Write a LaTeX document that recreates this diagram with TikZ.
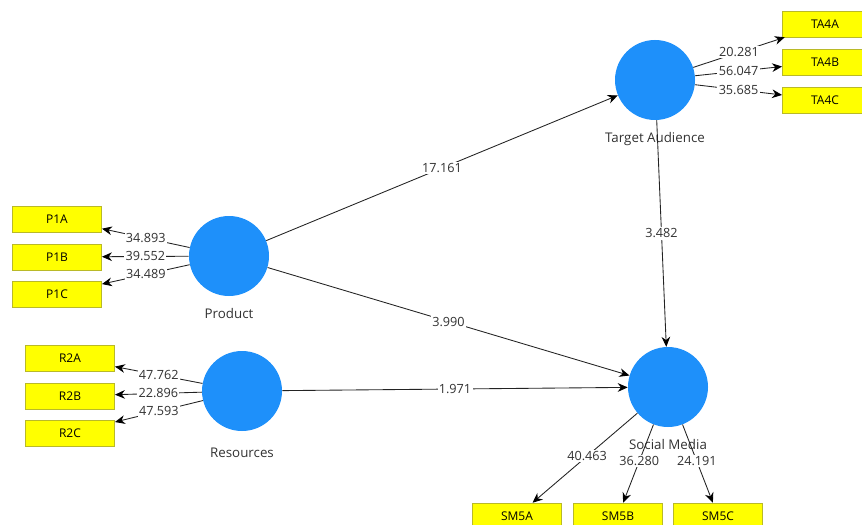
\documentclass[tikz,border=0pt]{standalone}
\usepackage{fontspec}
\setmainfont{Open Sans}
\usetikzlibrary{arrows,arrows.meta,positioning}
\definecolor{plsblue}{RGB}{30,144,250}
\definecolor{plsyellow}{RGB}{255,255,0}
\definecolor{plsedge}{RGB}{185,185,40}
\definecolor{plsgray}{RGB}{35,35,35}
\definecolor{plstext}{RGB}{50,50,50}
\tikzstyle{arrow} = [->,>={Stealth[length=7.5pt,width=6.5pt,color=black]},color=plsgray,line width=0.65pt]
\tikzstyle{latent} = [circle, minimum size=60pt, inner sep=0pt, fill=plsblue]
\tikzstyle{indbox} = [rectangle, minimum width=67pt, minimum height=19.5pt, inner sep=0pt, text centered, draw=plsedge, fill=plsyellow, font=\fontsize{9}{10}\selectfont]
\tikzstyle{coef} = [fill=white, inner sep=1pt, text=plstext, font=\fontsize{9.5}{10}\selectfont]
\tikzstyle{latlabel} = [inner sep=0pt, text=plstext, font=\fontsize{10}{11}\selectfont]

\begin{document}
\begin{tikzpicture}[x=0.75pt,y=-0.75pt]
\useasboundingbox (0,0) rectangle (862,524);

% Latent variables
\node[latent] (prod) at (229,256) {};
\node[latent] (res) at (242,391) {};
\node[latent] (ta) at (655,80) {};
\node[latent] (sm) at (668,387) {};

% Latent labels
\node[latlabel, below=9pt of prod] (prodlab) {Product};
\node[latlabel, below=12pt of res] (reslab) {Resources};
\node[latlabel, below=9pt of ta] (talab) {Target Audience};
\node[latlabel, below=9pt of sm] (smlab) {Social Media};

% Indicators
\node[indbox] (p1a) at (57,219) {P1A};
\node[indbox] (p1b) at (57,257) {P1B};
\node[indbox] (p1c) at (57,294) {P1C};
\node[indbox] (r2a) at (70,358) {R2A};
\node[indbox] (r2b) at (70,396) {R2B};
\node[indbox] (r2c) at (70,433) {R2C};
\node[indbox, minimum width=64pt] (ta4a) at (825,24) {TA4A};
\node[indbox, minimum width=64pt] (ta4b) at (825,62) {TA4B};
\node[indbox, minimum width=64pt] (ta4c) at (825,100) {TA4C};
\node[indbox] (sm5a) at (517,516) {SM5A};
\node[indbox] (sm5b) at (618,516) {SM5B};
\node[indbox] (sm5c) at (718,516) {SM5C};

% Outer loadings
\draw[arrow] (prod) -- (p1a) node[coef, midway] {34.893};
\draw[arrow] (prod) -- (p1b) node[coef, midway] {39.552};
\draw[arrow] (prod) -- (p1c) node[coef, midway] {34.489};
\draw[arrow] (res) -- (r2a) node[coef, midway] {47.762};
\draw[arrow] (res) -- (r2b) node[coef, midway] {22.896};
\draw[arrow] (res) -- (r2c) node[coef, midway] {47.593};
\draw[arrow] (ta) -- (ta4a) node[coef, midway] {20.281};
\draw[arrow] (ta) -- (ta4b) node[coef, midway] {56.047};
\draw[arrow] (ta) -- (ta4c) node[coef, midway] {35.685};
\draw[arrow] (sm) -- (sm5a) node[coef, pos=0.48] {40.463};
\draw[arrow] (sm) -- (sm5b) node[coef, pos=0.47] {36.280};
\draw[arrow] (sm) -- (sm5c) node[coef, pos=0.47] {24.191};

% Path coefficients
\draw[arrow] (prod) -- (ta) node[coef, midway] {17.161};
\draw[arrow] (prod) -- (sm) node[coef, midway] {3.990};
\draw[arrow] (res) -- (sm) node[coef, midway] {1.971};
\draw[arrow] (ta) -- (sm) node[coef, midway] {3.482};
\end{tikzpicture}
\end{document}
